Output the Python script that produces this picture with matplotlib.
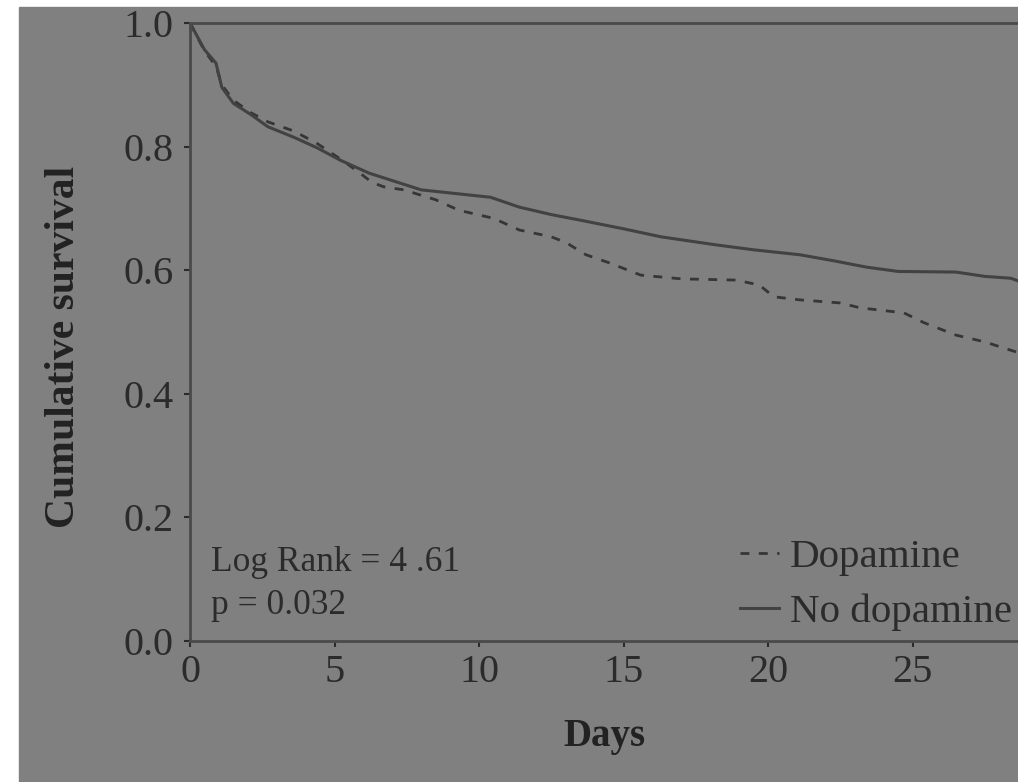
import matplotlib
matplotlib.use("Agg")
import matplotlib.pyplot as plt
from matplotlib.patches import Rectangle
from matplotlib.ticker import FormatStrFormatter

plt.rcParams["font.family"] = ["Liberation Serif", "DejaVu Serif"]

# Kaplan-Meier curves
days_dop = [0, 0.5, 0.9, 1.1, 1.5, 2.1, 2.7, 3.6, 4.4, 5.2, 5.8, 6.3, 6.7, 7.4,
            8.5, 9.3, 10.5, 11.4, 12.5, 13.0, 13.7, 14.5, 15.6, 17.0, 18.9,
            19.7, 20.2, 21.1, 22.5, 23.2, 24.7, 25.4, 26.5, 27.5, 28.7]
surv_dop = [1.0, 0.955, 0.93, 0.9, 0.875, 0.855, 0.84, 0.825, 0.805, 0.78,
            0.76, 0.742, 0.735, 0.73, 0.714, 0.697, 0.684, 0.665, 0.654, 0.645,
            0.625, 0.612, 0.592, 0.586, 0.584, 0.576, 0.557, 0.552, 0.547,
            0.539, 0.531, 0.515, 0.495, 0.484, 0.466]

days_nodop = [0, 0.5, 0.9, 1.1, 1.5, 2.1, 2.7, 3.6, 4.4, 5.2, 6.2, 7.0, 8.0,
              9.0, 10.4, 11.4, 12.5, 13.5, 15.0, 16.3, 18.2, 19.5, 21.1, 22.3,
              23.4, 24.5, 26.5, 27.5, 28.4, 28.7]
surv_nodop = [1.0, 0.957, 0.935, 0.896, 0.87, 0.852, 0.832, 0.815, 0.798,
              0.778, 0.757, 0.745, 0.730, 0.725, 0.718, 0.702, 0.69, 0.681,
              0.667, 0.654, 0.641, 0.633, 0.625, 0.615, 0.605, 0.598, 0.597,
              0.59, 0.587, 0.582]

x_ticks = [0, 5, 10, 15, 20, 25]
y_ticks = [0.0, 0.2, 0.4, 0.6, 0.8, 1.0]

bg = "#808080"
ink = "#2b2b2b"

fig = plt.figure(figsize=(10.18, 7.82), dpi=100, facecolor="white")
fig.patches.append(Rectangle((19 / 1018, 0), 1, (782 - 7) / 782,
                             transform=fig.transFigure, color=bg, zorder=-10))
ax = fig.add_axes([190 / 1018, (782 - 641) / 782, 828 / 1018, 618 / 782])
ax.set_facecolor(bg)

ax.plot(days_dop, surv_dop, color="#363636", lw=2.0, ls=(0, (3.2, 3.4)),
        label="Dopamine")
ax.plot(days_nodop, surv_nodop, color="#424242", lw=2.2, label="No dopamine")

ax.set_xlim(0, 28.65)
ax.set_ylim(0, 1.0)
ax.set_xticks(x_ticks)
ax.set_yticks(y_ticks)
ax.yaxis.set_major_formatter(FormatStrFormatter("%.1f"))
ax.tick_params(labelsize=29, colors=ink, length=4, width=1.5)
ax.tick_params(axis="x", pad=5)
ax.tick_params(axis="y", pad=8)
for s in ["left", "bottom", "top"]:
    ax.spines[s].set_color("#4a4a4a")
    ax.spines[s].set_linewidth(2.0)
ax.spines["right"].set_visible(False)

ax.set_xlabel("Days", fontsize=28, fontweight="bold", color="#222222")
ax.xaxis.set_label_coords(0.5, -0.125)
ax.set_ylabel("Cumulative survival", fontsize=30, fontweight="bold",
              color="#222222")
ax.yaxis.set_label_coords(-0.129, 0.476)

ax.text(0.025, 0.03, "Log Rank = 4 .61\np = 0.032", transform=ax.transAxes,
        fontsize=25.5, color=ink, va="bottom", ha="left", linespacing=1.4)

leg = ax.legend(loc="lower left", bbox_to_anchor=(0.664, 0.016), frameon=False,
                fontsize=29.5, handlelength=0.95, handletextpad=0.28,
                labelspacing=0.42, borderaxespad=0, borderpad=0)
for t in leg.get_texts():
    t.set_color(ink)

fig.savefig("out.png", dpi=100, facecolor="white")
